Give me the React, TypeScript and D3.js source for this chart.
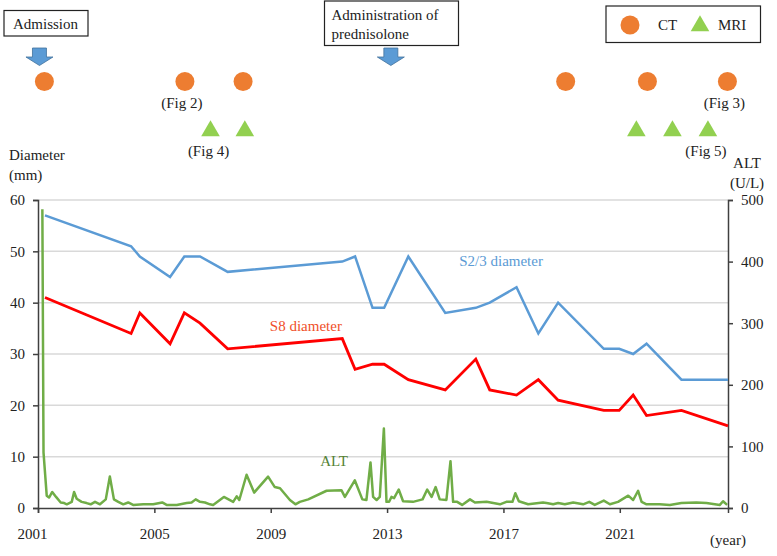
import React, { useEffect, useRef } from 'react';
import * as d3 from 'd3';

// diameter measurements (mm)
const diamYears = [2001.24, 2004.2, 2004.5, 2005.54, 2006.03, 2006.57, 2007.52, 2011.46, 2011.9, 2012.5, 2012.9, 2013.73, 2015.0, 2016.05, 2016.53, 2017.45, 2018.2, 2018.88, 2020.45, 2020.98, 2021.46, 2021.92, 2023.12, 2024.72];
const s23Diameter = [57, 51, 49, 45, 49, 49, 46, 48, 49, 39, 39, 49, 38, 39, 40, 43, 34, 40, 31, 31, 30, 32, 25, 25];
const s8Diameter = [41, 34, 38, 32, 38, 36, 31, 33, 27, 28, 28, 25, 23, 29, 23, 22, 25, 21, 19, 19, 22, 18, 19, 16];

// ALT (U/L)
const altYears = [2001.15, 2001.19, 2001.3, 2001.38, 2001.49, 2001.62, 2001.78, 2001.9, 2001.99, 2002.16, 2002.24, 2002.33, 2002.5, 2002.67, 2002.81, 2002.96, 2003.13, 2003.33, 2003.47, 2003.61, 2003.76, 2003.93, 2004.1, 2004.27, 2004.62, 2004.96, 2005.27, 2005.42, 2005.77, 2006.11, 2006.28, 2006.42, 2006.57, 2006.74, 2006.91, 2007.02, 2007.39, 2007.71, 2007.83, 2007.92, 2008.17, 2008.43, 2008.91, 2009.14, 2009.32, 2009.66, 2009.85, 2010.0, 2010.29, 2010.92, 2011.43, 2011.55, 2011.89, 2012.15, 2012.29, 2012.43, 2012.52, 2012.64, 2012.75, 2012.89, 2012.98, 2013.07, 2013.15, 2013.24, 2013.4, 2013.55, 2013.89, 2014.22, 2014.38, 2014.53, 2014.67, 2014.81, 2015.04, 2015.18, 2015.27, 2015.41, 2015.58, 2015.85, 2016.02, 2016.42, 2016.88, 2017.1, 2017.31, 2017.41, 2017.53, 2017.85, 2018.36, 2018.48, 2018.71, 2018.88, 2019.11, 2019.4, 2019.74, 2019.95, 2020.14, 2020.45, 2020.66, 2020.94, 2021.29, 2021.46, 2021.63, 2021.75, 2021.92, 2022.37, 2022.72, 2023.12, 2023.63, 2023.98, 2024.44, 2024.55, 2024.69];
const altValues = [485, 90, 20, 17, 26, 18, 9, 8, 6, 10, 26, 15, 10, 8, 6, 10, 6, 14, 51, 14, 10, 6, 9, 5, 6, 6, 9, 5, 5, 8, 9, 14, 10, 9, 6, 5, 18, 10, 19, 13, 54, 25, 51, 34, 32, 13, 6, 10, 14, 28, 29, 18, 45, 14, 13, 74, 18, 13, 18, 129, 10, 10, 18, 16, 30, 11, 10, 14, 30, 18, 34, 14, 13, 76, 10, 10, 5, 14, 9, 10, 6, 10, 10, 24, 11, 6, 9, 8, 6, 8, 6, 9, 6, 10, 5, 12, 6, 10, 20, 13, 28, 10, 6, 6, 5, 8, 9, 8, 5, 11, 5];

// imaging dates
const ctYears = [2001.22, 2006.05, 2008.05, 2019.14, 2021.95, 2024.7];
const mriYears = [2006.93, 2008.11, 2021.57, 2022.81, 2024.03];
const ctLabels = [{ year: 2006.05, text: '(Fig 2)' }, { year: 2024.7, text: '(Fig 3)' }];
const mriLabels = [{ year: 2006.93, text: '(Fig 4)' }, { year: 2024.03, text: '(Fig 5)' }];
const arrowYears = [2001.05, 2013.13];

const leftTicks = [0, 10, 20, 30, 40, 50, 60];
const rightTicks = [0, 100, 200, 300, 400, 500];
const xTicks = [2001, 2005, 2009, 2013, 2017, 2021];

const App = () => {
  const ref = useRef(null);

  useEffect(() => {
    const width = 777;
    const height = 556;
    const margin = { top: 200, right: 49, bottom: 48, left: 38 };
    const font = 'Liberation Serif, Times New Roman, DejaVu Serif, serif';

    d3.select(ref.current).selectAll('*').remove();
    const svg = d3.select(ref.current)
      .append('svg')
      .attr('width', width)
      .attr('height', height)
      .attr('font-family', font)
      .style('position', 'absolute')
      .style('left', 0)
      .style('top', 0);

    const x = d3.scaleLinear().domain([2001, 2024.72]).range([margin.left, width - margin.right]);
    const y = d3.scaleLinear().domain([0, 60]).range([height - margin.bottom, margin.top]);
    const y2 = d3.scaleLinear().domain([0, 500]).range([height - margin.bottom, margin.top]);

    // grid
    svg.append('g')
      .selectAll('line')
      .data(leftTicks.slice(1))
      .enter()
      .append('line')
      .attr('x1', x(2001)).attr('x2', x(2024.72))
      .attr('y1', d => y(d)).attr('y2', d => y(d))
      .attr('stroke', '#d9d9d9')
      .attr('stroke-width', 1.5);

    // axes
    const leftAxis = svg.append('g')
      .attr('transform', `translate(${x(2001)},0)`)
      .call(d3.axisLeft(y).tickValues(leftTicks).tickSize(5).tickPadding(8));
    const rightAxis = svg.append('g')
      .attr('transform', `translate(${x(2024.72)},0)`)
      .call(d3.axisRight(y2).tickValues(rightTicks).tickSize(5).tickPadding(8));
    const bottomAxis = svg.append('g')
      .attr('transform', `translate(0,${y(0)})`)
      .call(d3.axisBottom(x).tickValues(xTicks).tickFormat(d3.format('d')).tickSize(5).tickPadding(15));
    [leftAxis, rightAxis, bottomAxis].forEach(g => {
      g.attr('font-family', font).attr('font-size', 15);
      g.select('.domain').attr('stroke', '#404040').attr('stroke-width', 1.5);
      g.selectAll('.tick line').attr('stroke', '#404040').attr('stroke-width', 1.5);
      g.selectAll('text').attr('fill', '#222');
    });
    bottomAxis.selectAll('.tick text').attr('dx', (d) => (d === 2001 ? -6 : 0));

    // lines
    const line = d3.line().x(d => x(d[0])).y(d => d[1]);
    svg.append('path')
      .datum(altYears.map((yr, i) => [yr, y2(altValues[i])]))
      .attr('d', line)
      .attr('fill', 'none')
      .attr('stroke', '#70ad47')
      .attr('stroke-width', 2.5)
      .attr('stroke-linejoin', 'round');
    svg.append('path')
      .datum(diamYears.map((yr, i) => [yr, y(s23Diameter[i])]))
      .attr('d', line)
      .attr('fill', 'none')
      .attr('stroke', '#5b9bd5')
      .attr('stroke-width', 2.5);
    svg.append('path')
      .datum(diamYears.map((yr, i) => [yr, y(s8Diameter[i])]))
      .attr('d', line)
      .attr('fill', 'none')
      .attr('stroke', '#ff0000')
      .attr('stroke-width', 2.8);

    // series labels
    const seriesLabels = [
      { text: 'S2/3 diameter', year: 2015.48, val: 48.1, color: '#5b9bd5' },
      { text: 'S8 diameter', year: 2008.97, val: 35.5, color: '#f0502a' },
      { text: 'ALT', year: 2010.7, val: 9.2, color: '#548235' },
    ];
    svg.selectAll('.slabel')
      .data(seriesLabels)
      .enter()
      .append('text')
      .attr('x', d => x(d.year))
      .attr('y', d => y(d.val))
      .attr('dy', '0.35em')
      .attr('fill', d => d.color)
      .attr('font-size', 15)
      .text(d => d.text);

    // axis titles
    const titles = [
      { text: 'Diameter', x: 9, y: 155, anchor: 'start' },
      { text: '(mm)', x: 9, y: 175, anchor: 'start' },
      { text: 'ALT', x: 747, y: 163, anchor: 'middle' },
      { text: '(U/L)', x: 747, y: 183, anchor: 'middle' },
      { text: '(year)', x: 728, y: 540, anchor: 'middle' },
    ];
    svg.selectAll('.title')
      .data(titles)
      .enter()
      .append('text')
      .attr('x', d => d.x)
      .attr('y', d => d.y)
      .attr('dy', '0.35em')
      .attr('text-anchor', d => d.anchor)
      .attr('fill', '#222')
      .attr('font-size', 15)
      .text(d => d.text);

    // CT circles & MRI triangles
    svg.selectAll('.ct')
      .data(ctYears)
      .enter()
      .append('circle')
      .attr('cx', d => x(d))
      .attr('cy', 81.5)
      .attr('r', 9.5)
      .attr('fill', '#ed7d31');
    const tri = d3.symbol().type(d3.symbolTriangle).size(150);
    svg.selectAll('.mri')
      .data(mriYears)
      .enter()
      .append('path')
      .attr('d', tri)
      .attr('transform', d => `translate(${x(d)},131)`)
      .attr('fill', '#92d050');

    svg.selectAll('.ctl')
      .data(ctLabels)
      .enter()
      .append('text')
      .attr('x', d => x(d.year) - 3)
      .attr('y', 103)
      .attr('dy', '0.35em')
      .attr('text-anchor', 'middle')
      .attr('fill', '#222')
      .attr('font-size', 15)
      .text(d => d.text);
    svg.selectAll('.mril')
      .data(mriLabels)
      .enter()
      .append('text')
      .attr('x', d => x(d.year) - 2)
      .attr('y', 151)
      .attr('dy', '0.35em')
      .attr('text-anchor', 'middle')
      .attr('fill', '#222')
      .attr('font-size', 15)
      .text(d => d.text);

    // arrows
    svg.selectAll('.arrow')
      .data(arrowYears)
      .enter()
      .append('path')
      .attr('d', d => {
        const cx = x(d);
        return `M${cx - 7},48 L${cx + 7},48 L${cx + 7},57 L${cx + 13.5},57 L${cx},65.5 L${cx - 13.5},57 L${cx - 7},57 Z`;
      })
      .attr('fill', '#5b9bd5')
      .attr('stroke', '#41719c')
      .attr('stroke-width', 0.8);

    // annotation boxes
    svg.append('rect')
      .attr('x', 4).attr('y', 10.5).attr('width', 84).attr('height', 25.5)
      .attr('fill', 'white').attr('stroke', '#222').attr('stroke-width', 1.2);
    svg.append('text')
      .attr('x', 13).attr('y', 23.5).attr('dy', '0.35em')
      .attr('fill', '#222').attr('font-size', 15)
      .text('Admission');
    svg.append('rect')
      .attr('x', 324.5).attr('y', 1).attr('width', 134).attr('height', 44.5)
      .attr('fill', 'white').attr('stroke', '#222').attr('stroke-width', 1.2);
    svg.append('text')
      .attr('x', 331.5).attr('y', 15).attr('dy', '0.35em')
      .attr('fill', '#222').attr('font-size', 15)
      .text('Administration of');
    svg.append('text')
      .attr('x', 331.5).attr('y', 33.5).attr('dy', '0.35em')
      .attr('fill', '#222').attr('font-size', 15)
      .text('prednisolone');

    // legend
    svg.append('rect')
      .attr('x', 606).attr('y', 6).attr('width', 154.5).attr('height', 36.5)
      .attr('fill', 'white').attr('stroke', '#222').attr('stroke-width', 1.2);
    svg.append('circle').attr('cx', 630).attr('cy', 25).attr('r', 9.5).attr('fill', '#ed7d31');
    svg.append('text').attr('x', 658).attr('y', 25).attr('dy', '0.35em')
      .attr('fill', '#222').attr('font-size', 15).text('CT');
    svg.append('path').attr('d', tri).attr('transform', 'translate(700,26)').attr('fill', '#92d050');
    svg.append('text').attr('x', 718).attr('y', 25).attr('dy', '0.35em')
      .attr('fill', '#222').attr('font-size', 15).text('MRI');
  }, []);

  return <div ref={ref} />;
};

export default App;
